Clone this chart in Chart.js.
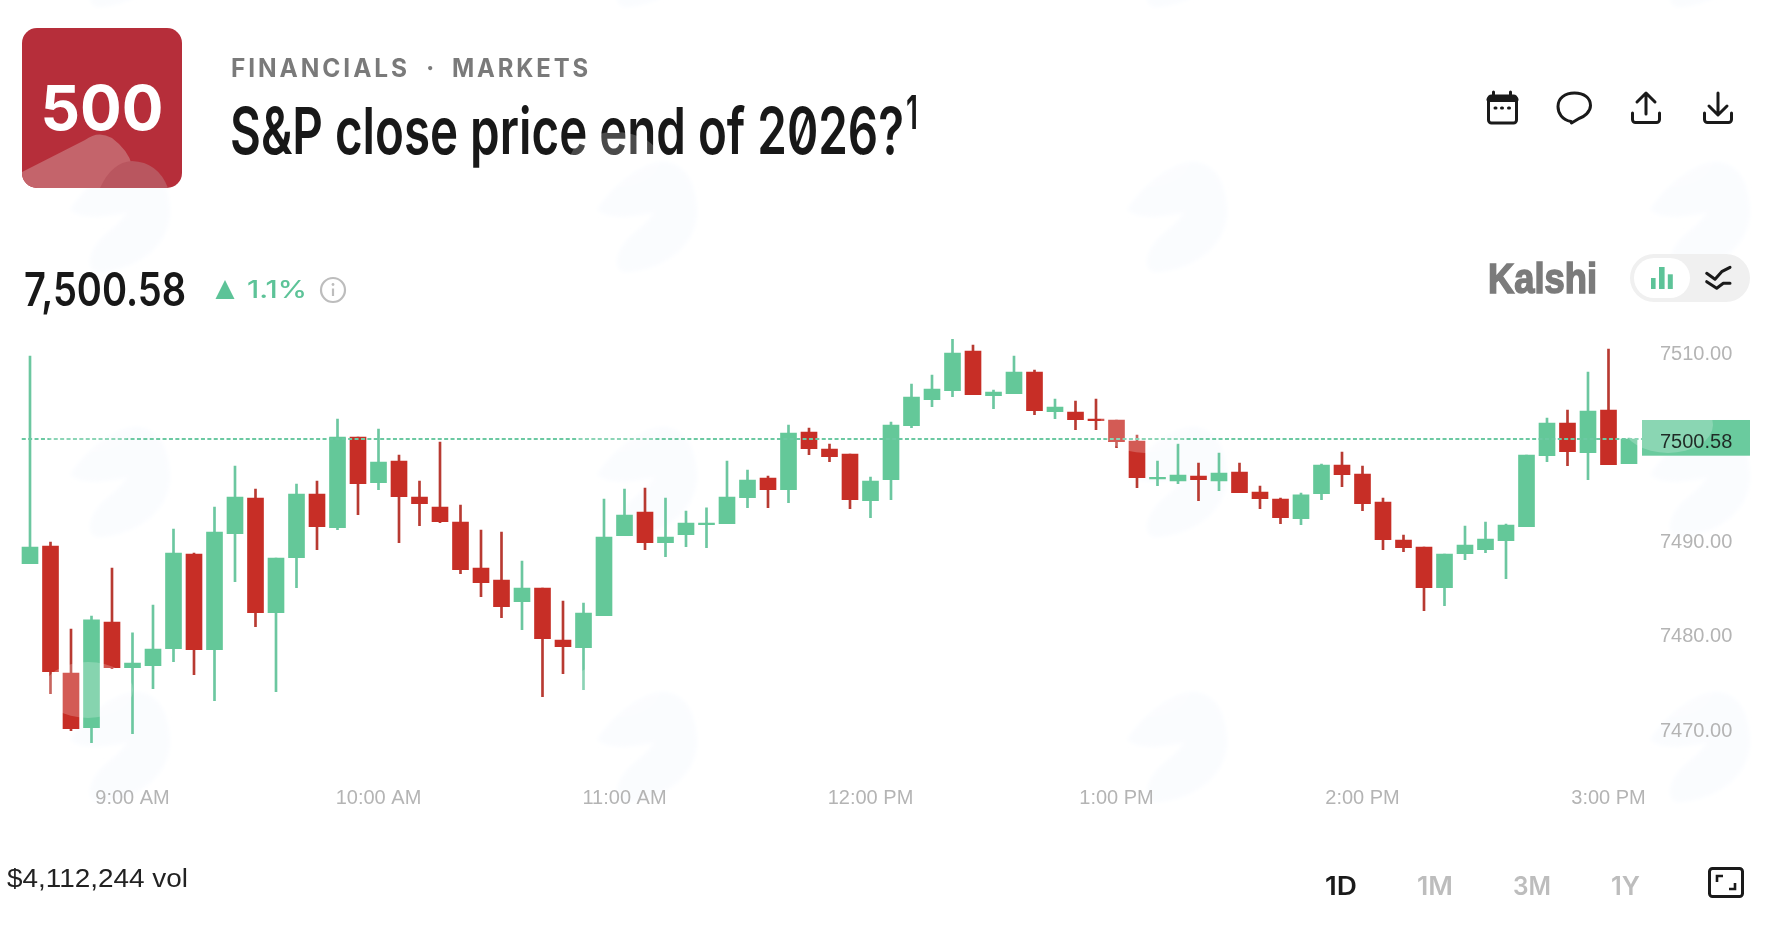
<!DOCTYPE html>
<html>
<head>
<meta charset="utf-8">
<title>S&amp;P close price end of 2026?</title>
<script src="https://cdn.jsdelivr.net/npm/chart.js@4/dist/chart.umd.min.js"></script>
<style>
    html, body { margin: 0; padding: 0; background: #fff; overflow: hidden; }
    .layer { position: absolute; left: 0; top: 0; width: 1776px; height: 930px; pointer-events: none; }
    #chartWrap { position: absolute; left: 0; top: 290px; width: 1776px; height: 550px; }
    text { font-family: Inter, "Noto Sans", sans-serif; }
    .cond { font-weight: 600; fill: #181818; }
    .cat { font-weight: 700; font-size: 25px; letter-spacing: 3px; fill: #7a7a7a; }
    .range { font-weight: 600; font-size: 25px; fill: #bdbdbd; }
    .icon { fill: none; stroke: #1a1a1a; stroke-width: 3; stroke-linecap: round; stroke-linejoin: round; }
    .blob { fill: #fafcfe; }
    .glow { fill: rgba(255, 255, 255, 0.22); }
</style>
</head>
<body>
<svg class="layer" viewBox="0 0 1776 930">
    <defs>
        <path id="bird" d="M-3 48 C10 25 45 -2 65 0 C90 2 97 30 97 50 C97 80 70 105 30 110 C15 112 15 100 20 88 C28 72 45 65 55 50 C35 55 10 58 -3 48 Z"/>
        <clipPath id="tile"><rect x="22" y="28" width="160" height="160" rx="15"/></clipPath>
        <filter id="soft"><feGaussianBlur stdDeviation="2"/></filter>
    </defs>
    <g id="blobs" filter="url(#soft)"></g>

    <!-- header -->
    <rect x="22" y="28" width="160" height="160" rx="15" fill="#b62e3a"/>
    <g clip-path="url(#tile)">
        <path d="M22 172 L85 140 Q98 130 112 138 Q128 150 132 165 L132 188 L22 188 Z" fill="#c4646b"/>
        <path d="M100 188 Q112 162 132 161 Q158 162 168 188 Z" fill="#b9565f"/>
    </g>
    <text x="40.5" y="130" font-size="62" font-weight="700" fill="#fff" textLength="123" lengthAdjust="spacingAndGlyphs">500</text>
    <text class="cat" x="231" y="77" textLength="179" lengthAdjust="spacingAndGlyphs">FINANCIALS</text>
    <text class="cat" x="426" y="77">·</text>
    <text class="cat" x="452" y="77" textLength="139" lengthAdjust="spacingAndGlyphs">MARKETS</text>
    <text class="cond" x="230" y="154" font-size="65" style="font-feature-settings:'zero' 1" textLength="674" lengthAdjust="spacingAndGlyphs">S&amp;P close price end of 2026?</text>
    <text class="cond" x="906" y="129" font-size="46" textLength="12" lengthAdjust="spacingAndGlyphs">1</text>

    <!-- the soft patch that shows over the title -->
    <!-- top icons -->
    <g class="icon">
        <rect x="1488.5" y="96" width="28" height="27" rx="3"/>
        <path d="M1493.5 92 v4 M1510.5 92 v4"/>
        <path d="M1489 99.5 h27" stroke-width="5"/>
        <path d="M1495 108 h1 M1501.5 108 h1 M1508.5 108 h1" stroke-width="3"/>
        <path d="M1571 121.5 C1562 120 1558 113 1558 106.5 C1558 98 1565 93 1574.5 93 C1584 93 1590.5 98 1590.5 105.5 C1590.5 112 1584 117 1579 118.5 L1571.5 123 Z"/>
        <path d="M1646 114 V94 M1637 102 L1646 93 L1655 102"/>
        <path d="M1632.5 113 v6.5 a3 3 0 0 0 3 3 h21 a3 3 0 0 0 3 -3 v-6.5"/>
        <path d="M1718 93 V114 M1709 106 L1718 115 L1727 106"/>
        <path d="M1704.5 113 v6.5 a3 3 0 0 0 3 3 h21 a3 3 0 0 0 3 -3 v-6.5"/>
    </g>

    <!-- price row -->
    <text class="cond" x="24" y="306" font-size="46" font-weight="500" textLength="162" lengthAdjust="spacingAndGlyphs">7,500.58</text>
    <polygon points="215.5,299 234.5,299 225,280" fill="#5dc398"/>
    <text x="247" y="298" font-size="24" font-weight="500" fill="#5dc398" textLength="60" lengthAdjust="spacingAndGlyphs">1.1%</text>
    <circle cx="333" cy="290" r="12" fill="none" stroke="#bdbdbd" stroke-width="2.2"/>
    <path d="M333 288.5 v7.5" stroke="#bdbdbd" stroke-width="2.2"/>
    <circle cx="333" cy="284.5" r="1.4" fill="#bdbdbd"/>

    <text x="1488" y="293" font-size="43" font-weight="700" fill="#7b7b7b" stroke="#7b7b7b" stroke-width="1.6" style="font-family:'Liberation Sans'" textLength="109" lengthAdjust="spacingAndGlyphs">Kalshi</text>
    <rect x="1630" y="254" width="120" height="48" rx="24" fill="#f0f0f0"/>
    <rect x="1634" y="258" width="56" height="40" rx="20" fill="#fff"/>
    <rect x="1651" y="278" width="4.6" height="11" fill="#5dc398"/>
    <rect x="1659" y="267" width="5.6" height="22" fill="#5dc398"/>
    <rect x="1667.8" y="274.3" width="5" height="14.7" fill="#5dc398"/>
    <path class="icon" stroke-width="2.6" d="M1706.7 273.3 L1715 279.3 L1721.7 271.7 L1730 267.3 M1706.7 281.7 L1716.7 288.3 L1723.3 283.3 L1730 283.3"/>

    <!-- footer -->
    <text x="7" y="887" font-size="26" fill="#222" style="font-family:'Liberation Sans'" textLength="181" lengthAdjust="spacingAndGlyphs">$4,112,244 vol</text>
    <text class="range" x="1325" y="895" style="fill:#1a1a1a" textLength="32" lengthAdjust="spacingAndGlyphs">1D</text>
    <text class="range" x="1417" y="895" textLength="36" lengthAdjust="spacingAndGlyphs">1M</text>
    <text class="range" x="1513" y="895" textLength="38" lengthAdjust="spacingAndGlyphs">3M</text>
    <text class="range" x="1611" y="895" textLength="29" lengthAdjust="spacingAndGlyphs">1Y</text>
    <g class="icon">
        <rect x="1709.5" y="868.5" width="33" height="28" rx="3"/>
        <path d="M1717 882 v-6 h6 M1735 883 v6 h-6" stroke-linecap="butt" stroke-linejoin="miter" stroke-width="2.6"/>
    </g>
    <ellipse class="glow" cx="615" cy="160" rx="45" ry="28"/>
    <ellipse class="glow" cx="1145" cy="160" rx="45" ry="28"/>
    <ellipse class="glow" cx="1668" cy="160" rx="45" ry="28"/>
</svg>

<div id="chartWrap"><canvas id="priceChart" width="1776" height="550"></canvas></div>

<script>
// 5 minute candles, first one at 8:35 AM
const opens = [
    7487.35, 7489.22, 7475.74, 7469.94, 7481.15, 7476.31, 7476.52, 7478.32, 7488.37, 7478.22,
    7490.53, 7494.32, 7482.14, 7487.98, 7494.74, 7491.17, 7500.79, 7495.94, 7498.24, 7494.42,
    7493.36, 7491.77, 7486.89, 7485.61, 7483.31, 7484.76, 7479.24, 7478.43, 7481.83, 7490.32,
    7492.83, 7489.58, 7490.42, 7491.49, 7491.59, 7494.35, 7496.44, 7495.20, 7501.32, 7499.52,
    7498.99, 7494.03, 7496.26, 7502.00, 7504.76, 7505.71, 7509.92, 7505.18, 7505.39, 7507.69,
    7503.48, 7503.45, 7502.70, 7502.60, 7500.37, 7496.33, 7496.12, 7496.65, 7496.12, 7497.08,
    7494.95, 7494.21, 7492.12, 7494.78, 7497.82, 7496.86, 7493.89, 7489.86, 7489.11, 7484.80,
    7488.41, 7488.83, 7489.79, 7491.27, 7498.81, 7502.28, 7499.13, 7503.66, 7497.96
];
const closes = [
    7489.11, 7475.88, 7469.83, 7481.37, 7476.31, 7476.80, 7478.29, 7488.48, 7478.22, 7490.71,
    7494.42, 7482.14, 7487.95, 7494.74, 7491.27, 7500.79, 7495.84, 7498.14, 7494.46, 7493.72,
    7491.80, 7486.71, 7485.33, 7482.78, 7484.76, 7479.38, 7478.53, 7482.11, 7490.18, 7492.51,
    7489.58, 7490.18, 7491.66, 7491.66, 7494.42, 7496.23, 7495.20, 7501.22, 7499.55, 7498.70,
    7494.14, 7496.12, 7502.07, 7505.04, 7505.89, 7509.71, 7505.29, 7505.57, 7507.69, 7503.59,
    7503.98, 7502.63, 7502.53, 7500.30, 7496.48, 7496.51, 7496.76, 7496.26, 7496.97, 7494.88,
    7494.25, 7492.23, 7494.64, 7497.82, 7496.79, 7493.72, 7489.89, 7489.04, 7484.80, 7488.37,
    7489.33, 7489.96, 7491.45, 7498.88, 7502.28, 7499.24, 7503.55, 7497.86, 7500.58
];
const highs = [
    7509.39, 7489.65, 7480.41, 7481.79, 7486.89, 7479.99, 7482.96, 7491.03, 7488.48, 7493.36,
    7497.71, 7495.27, 7487.95, 7495.80, 7496.12, 7502.70, 7500.79, 7501.64, 7498.88, 7496.12,
    7500.26, 7493.57, 7490.92, 7490.71, 7487.63, 7484.76, 7483.38, 7483.17, 7494.21, 7495.27,
    7495.38, 7494.32, 7492.94, 7493.26, 7498.24, 7497.29, 7496.65, 7502.07, 7501.75, 7500.05,
    7498.99, 7496.55, 7502.38, 7506.42, 7507.37, 7511.16, 7510.56, 7505.78, 7509.39, 7507.90,
    7504.83, 7504.61, 7504.83, 7502.60, 7501.00, 7498.24, 7500.05, 7498.03, 7499.09, 7498.03,
    7495.59, 7494.32, 7494.85, 7497.93, 7499.20, 7497.71, 7494.32, 7490.39, 7489.11, 7488.37,
    7491.34, 7491.77, 7491.56, 7498.88, 7502.81, 7503.66, 7507.69, 7510.13, 7500.69
];
const lows = [
    7487.35, 7473.55, 7469.62, 7468.34, 7476.20, 7469.30, 7474.08, 7476.94, 7475.56, 7472.80,
    7485.43, 7480.66, 7473.76, 7484.80, 7488.83, 7490.96, 7492.55, 7495.20, 7489.58, 7491.38,
    7491.70, 7486.28, 7483.84, 7481.61, 7480.34, 7473.23, 7475.67, 7473.97, 7481.83, 7490.32,
    7488.83, 7488.09, 7489.15, 7489.04, 7491.59, 7493.29, 7493.29, 7493.82, 7498.92, 7498.17,
    7493.18, 7492.23, 7494.14, 7501.78, 7504.01, 7505.07, 7505.29, 7503.80, 7505.39, 7503.16,
    7502.74, 7501.57, 7501.57, 7499.66, 7495.41, 7495.63, 7495.84, 7494.03, 7495.10, 7494.88,
    7493.18, 7491.59, 7491.49, 7494.14, 7495.52, 7492.97, 7488.83, 7488.62, 7482.36, 7482.89,
    7487.77, 7488.51, 7485.75, 7491.27, 7498.17, 7497.75, 7496.26, 7497.86, 7497.96
];
const lastPrice = 7500.58;
const yTicks = [7470, 7480, 7490, 7510];
const xTickLabels = ['9:00 AM', '10:00 AM', '11:00 AM', '12:00 PM', '1:00 PM', '2:00 PM', '3:00 PM'];

const bodyUp = '#64c899', bodyDown = '#c72e26';
const wickUp = '#6cc7a0', wickDown = '#b83a32';

// watermark tile origins
const tileX = [73, 600, 1130, 1653];
const tileY = [-103, 162, 427, 692];

// category labels for the 5 minute slots
function slotLabel(i) {
    const mins = 8 * 60 + 35 + i * 5;
    const h = Math.floor(mins / 60);
    const m = String(mins % 60).padStart(2, '0');
    return ((h + 11) % 12 + 1) + ':' + m + (h < 12 ? ' AM' : ' PM');
}
const categories = opens.map((_, i) => slotLabel(i));
const isUp = opens.map((o, i) => closes[i] >= o);

// dashed last price line, price tag and the white watermark patches over the candles
const priceTag = {
    id: 'priceTag',
    afterDatasetsDraw(chart) {
        const ctx = chart.ctx;
        const y = chart.scales.y.getPixelForValue(lastPrice);
        ctx.save();
        ctx.strokeStyle = '#6cc9a2';
        ctx.lineWidth = 1.8;
        ctx.setLineDash([4, 2.4]);
        ctx.beginPath();
        ctx.moveTo(chart.chartArea.left + 2, y);
        ctx.lineTo(chart.chartArea.right + 3, y);
        ctx.stroke();
        ctx.setLineDash([]);
        ctx.fillStyle = '#6acb9e';
        ctx.fillRect(chart.chartArea.right + 2.75, y - 19, 108, 35.7);

        ctx.fillStyle = 'rgba(255, 255, 255, 0.22)';
        tileX.forEach(x => [427, 692].forEach(t => {
            ctx.beginPath();
            ctx.ellipse(x + 15, t - 2 - 290, 45, 28, 0, 0, Math.PI * 2);
            ctx.fill();
        }));

        ctx.fillStyle = '#1f2b26';
        ctx.font = '20px "Liberation Sans"';
        ctx.textBaseline = 'middle';
        ctx.fillText(lastPrice.toFixed(2), 1660, y + 3);
        ctx.restore();
    }
};

new Chart(document.getElementById('priceChart').getContext('2d'), {
    type: 'bar',
    data: {
        labels: categories,
        datasets: [
            {
                label: 'Body',
                data: opens.map((o, i) => [o, closes[i]]),
                backgroundColor: isUp.map(u => u ? bodyUp : bodyDown),
                barThickness: 16,
                order: 1
            },
            {
                label: 'Wick',
                data: lows.map((l, i) => [l, highs[i]]),
                backgroundColor: isUp.map(u => u ? wickUp : wickDown),
                barThickness: 2,
                order: 2
            }
        ]
    },
    options: {
        responsive: false,
        animation: false,
        devicePixelRatio: 1,
        datasets: { bar: { grouped: false, borderWidth: 0, borderSkipped: false } },
        layout: { autoPadding: false, padding: { left: 19.75, top: 13.16, right: 0, bottom: 0 } },
        plugins: { legend: { display: false }, tooltip: { enabled: false } },
        scales: {
            x: {
                grid: { display: false, drawTicks: false },
                border: { display: false },
                afterFit(scale) {
                    scale.height = 65.84;
                    scale.paddingLeft = 0;
                    scale.paddingRight = 0;
                },
                ticks: {
                    autoSkip: false,
                    maxRotation: 0,
                    padding: 12,
                    color: '#b4b4b4',
                    font: { family: 'Liberation Sans', size: 20 },
                    callback(value) {
                        const label = this.getLabelForValue(value);
                        return xTickLabels.includes(label) ? label : '';
                    }
                }
            },
            y: {
                display: false,
                min: 7465,
                max: 7515
            },
            // same range as y, the labels sit a little under their value in the reference
            yLabels: {
                position: 'right',
                min: 7465.43,
                max: 7515.43,
                grid: { display: false, drawTicks: false },
                border: { display: false },
                afterFit(scale) {
                    scale.width = 136.75;
                    scale.paddingTop = 0;
                    scale.paddingBottom = 0;
                },
                afterBuildTicks(scale) { scale.ticks = yTicks.map(v => ({ value: v })); },
                ticks: {
                    padding: 20.75,
                    color: '#b4b4b4',
                    font: { family: 'Liberation Sans', size: 20 },
                    callback: v => v.toFixed(2)
                }
            }
        }
    },
    plugins: [priceTag]
});

// faint watermark, tiled across the page
const NS = 'http://www.w3.org/2000/svg';
tileX.forEach(x => tileY.forEach(y => {
    const use = document.createElementNS(NS, 'use');
    use.setAttribute('href', '#bird');
    use.setAttribute('class', 'blob');
    use.setAttribute('transform', `translate(${x} ${y})`);
    document.getElementById('blobs').appendChild(use);
}));
</script>
</body>
</html>
